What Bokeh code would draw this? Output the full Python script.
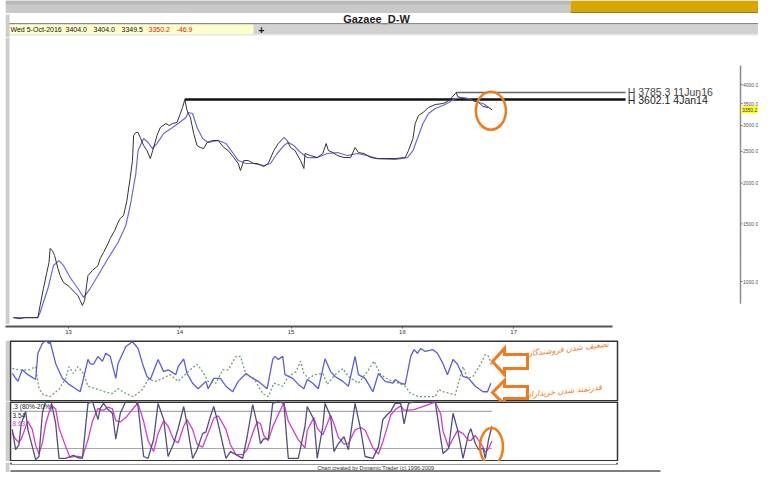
from bokeh.plotting import figure
from bokeh.layouts import column
from bokeh.models import Range1d, FixedTicker
from bokeh.core.properties import value
from bokeh.embed import file_html
from bokeh.resources import INLINE

# ---------------- data ----------------
title_text = "Gazaee_D-W"
info_texts = ["Wed 5-Oct-2016", "3404.0", "3404.0", "3349.5", "3350.2", "-46.9"]
info_colors = ["#111111", "#111111", "#111111", "#111111", "#e02020", "#e02020"]

price_years = [2012.46, 2012.51, 2012.57, 2012.62, 2012.68, 2012.70, 2012.73, 2012.76, 2012.78, 2012.79,
               2012.81, 2012.83, 2012.86, 2012.88, 2012.91, 2012.95, 2012.97, 2013.01, 2013.04, 2013.06,
               2013.08, 2013.10, 2013.12, 2013.13, 2013.17, 2013.22, 2013.24, 2013.27, 2013.31, 2013.33,
               2013.37, 2013.40, 2013.42, 2013.45, 2013.48, 2013.49, 2013.51, 2013.53, 2013.54, 2013.56,
               2013.58, 2013.60, 2013.63, 2013.66, 2013.69, 2013.72, 2013.75, 2013.78, 2013.83, 2013.86,
               2013.89, 2013.93, 2013.96, 2013.98, 2014.00, 2014.02, 2014.05, 2014.08, 2014.11, 2014.14,
               2014.17, 2014.20, 2014.25, 2014.30, 2014.35, 2014.39, 2014.44, 2014.48, 2014.50, 2014.53,
               2014.57, 2014.62, 2014.65, 2014.71, 2014.75, 2014.80, 2014.84, 2014.89, 2014.92, 2014.95,
               2014.99, 2015.04, 2015.07, 2015.08, 2015.13, 2015.19, 2015.24, 2015.27, 2015.29, 2015.33,
               2015.37, 2015.43, 2015.49, 2015.53, 2015.56, 2015.61, 2015.67, 2015.73, 2015.80, 2015.89,
               2015.98, 2016.01, 2016.05, 2016.07, 2016.10, 2016.14, 2016.19, 2016.25, 2016.32, 2016.36,
               2016.39, 2016.44, 2016.45, 2016.50, 2016.54, 2016.59, 2016.64, 2016.68, 2016.73, 2016.76]
price_close = [776, 770, 776, 776, 776, 845, 952, 1065, 1143, 1262,
               1244, 1201, 1096, 1043, 993, 972, 959, 926, 906, 875,
               845, 875, 986, 1043, 1081, 1119, 1176, 1227, 1307, 1354,
               1432, 1515, 1558, 1592, 1769, 1871, 2080, 2344, 2796, 2856,
               2856, 2757, 2605, 2515, 2377, 2569, 2796, 2958, 3042, 3000,
               3042, 3064, 3265, 3405, 3602.1, 3334, 3173, 2835, 2605, 2569,
               2551, 2661, 2700, 2700, 2569, 2515, 2394, 2296, 2185, 2344,
               2344, 2296, 2296, 2247, 2296, 2515, 2642, 2757, 2700, 2569,
               2515, 2344, 2216, 2463, 2428, 2394, 2463, 2642, 2515, 2480,
               2428, 2394, 2394, 2569, 2480, 2463, 2394, 2377, 2377, 2377,
               2394, 2515, 2737, 3042, 3218, 3287, 3405, 3477, 3502, 3551,
               3627, 3785.3, 3679, 3627, 3603, 3577, 3527, 3430, 3404, 3350.2]

ma_years = [2012.46, 2012.68, 2012.70, 2012.77, 2012.82, 2012.87, 2012.91, 2012.97, 2013.04, 2013.09,
            2013.15, 2013.22, 2013.31, 2013.40, 2013.47, 2013.51, 2013.56, 2013.58, 2013.63, 2013.67,
            2013.71, 2013.75, 2013.81, 2013.89, 2013.94, 2014.01, 2014.03, 2014.07, 2014.11, 2014.16,
            2014.21, 2014.30, 2014.37, 2014.43, 2014.48, 2014.55, 2014.62, 2014.71, 2014.77, 2014.83,
            2014.89, 2014.93, 2014.98, 2015.04, 2015.10, 2015.19, 2015.28, 2015.37, 2015.46, 2015.55,
            2015.64, 2015.73, 2015.89, 2016.00, 2016.05, 2016.09, 2016.14, 2016.19, 2016.25, 2016.32,
            2016.37, 2016.43, 2016.50, 2016.55, 2016.61, 2016.68, 2016.73]
ma_values = [776, 776, 804, 952, 1119, 1159, 1119, 1029, 952, 894,
             952, 1043, 1176, 1316, 1483, 1708, 2139, 2515, 2737, 2661,
             2551, 2642, 2835, 2958, 3042, 3173, 3287, 3265, 2958, 2737,
             2661, 2700, 2642, 2480, 2344, 2296, 2296, 2263, 2296, 2463,
             2605, 2661, 2605, 2480, 2394, 2394, 2463, 2480, 2428, 2463,
             2428, 2377, 2361, 2394, 2515, 2737, 3042, 3265, 3381, 3453,
             3527, 3627, 3653, 3627, 3551, 3502, 3405]

high_values = [3602.1, 3785.3]
high_years = [2014.00, 2016.44]
high_labels = ["H 3602.1 4Jan14", "H 3785.3 11Jun16"]
last_price = 3350.2
price_ticks = [1000, 1500, 2000, 2500, 3000, 3500, 4000]
price_tick_labels = ["%.1f" % v for v in price_ticks]

year_ticks = [2013, 2014, 2015, 2016, 2017]
year_labels = ["13", "14", "15", "16", "17"]

ind_blue_years = [2012.45, 2012.50, 2012.54, 2012.59, 2012.66, 2012.68, 2012.72, 2012.75, 2012.78, 2012.79,
                  2012.84, 2012.90, 2012.96, 2013.02, 2013.06, 2013.09, 2013.13, 2013.15, 2013.18, 2013.22,
                  2013.26, 2013.29, 2013.33, 2013.38, 2013.40, 2013.47, 2013.53, 2013.58, 2013.62, 2013.66,
                  2013.69, 2013.76, 2013.81, 2013.85, 2013.92, 2013.94, 2013.99, 2014.02, 2014.07, 2014.12,
                  2014.19, 2014.21, 2014.26, 2014.32, 2014.37, 2014.43, 2014.48, 2014.55, 2014.61, 2014.66,
                  2014.74, 2014.79, 2014.81, 2014.84, 2014.88, 2014.90, 2014.97, 2015.02, 2015.07, 2015.10,
                  2015.15, 2015.20, 2015.26, 2015.31, 2015.35, 2015.42, 2015.47, 2015.53, 2015.56, 2015.62,
                  2015.69, 2015.74, 2015.80, 2015.87, 2015.89, 2015.94, 2015.98, 2016.03, 2016.06, 2016.09,
                  2016.12, 2016.16, 2016.23, 2016.27, 2016.32, 2016.36, 2016.41, 2016.45, 2016.50, 2016.55,
                  2016.61, 2016.68, 2016.72, 2016.75]
ind_blue = [46, 33, 52, 44, 36, 79, 95, 100, 95, 98,
            62, 38, 28, 21, 16, 38, 69, 62, 61, 74,
            66, 79, 74, 38, 62, 90, 98, 87, 62, 41,
            36, 69, 49, 52, 44, 57, 70, 46, 30, 21,
            33, 21, 38, 38, 25, 16, 33, 46, 38, 33,
            21, 69, 74, 69, 74, 44, 38, 28, 21, 36,
            30, 21, 70, 49, 41, 33, 25, 74, 44, 38,
            16, 46, 33, 30, 36, 30, 28, 74, 85, 79,
            87, 82, 85, 79, 62, 44, 69, 61, 41, 38,
            25, 16, 16, 30]

ind_green_years = [2012.45, 2012.51, 2012.60, 2012.66, 2012.69, 2012.73, 2012.79, 2012.87, 2012.93, 2012.96,
                   2013.00, 2013.04, 2013.09, 2013.13, 2013.22, 2013.29, 2013.35, 2013.40, 2013.47, 2013.54,
                   2013.62, 2013.67, 2013.74, 2013.80, 2013.87, 2013.94, 2014.03, 2014.11, 2014.16, 2014.21,
                   2014.28, 2014.34, 2014.39, 2014.46, 2014.50, 2014.55, 2014.62, 2014.70, 2014.75, 2014.80,
                   2014.88, 2014.93, 2015.00, 2015.04, 2015.07, 2015.11, 2015.17, 2015.24, 2015.28, 2015.35,
                   2015.42, 2015.47, 2015.56, 2015.64, 2015.70, 2015.76, 2015.83, 2015.92, 2015.98, 2016.03,
                   2016.10, 2016.25, 2016.28, 2016.32, 2016.39, 2016.43, 2016.50, 2016.54, 2016.59, 2016.66,
                   2016.70, 2016.73, 2016.76]
ind_green = [54, 52, 52, 57, 21, 11, 8, 20, 38, 57,
             46, 57, 46, 25, 20, 15, 13, 21, 13, 8,
             20, 36, 33, 38, 44, 33, 49, 61, 49, 33,
             30, 52, 52, 74, 74, 44, 38, 13, 8, 30,
             25, 41, 49, 66, 46, 38, 44, 46, 28, 44,
             54, 41, 30, 49, 66, 44, 36, 30, 25, 13,
             8, 8, 20, 16, 13, 11, 57, 38, 41, 62,
             77, 74, 57]

stoch_years = [2012.45, 2012.48, 2012.51, 2012.53, 2012.57, 2012.59, 2012.63, 2012.66, 2012.69, 2012.72,
               2012.75, 2012.80, 2012.84, 2012.87, 2012.93, 2012.97, 2013.00, 2013.04, 2013.08, 2013.13,
               2013.17, 2013.22, 2013.24, 2013.27, 2013.31, 2013.35, 2013.38, 2013.42, 2013.47, 2013.56,
               2013.58, 2013.63, 2013.67, 2013.72, 2013.76, 2013.81, 2013.85, 2013.90, 2013.94, 2013.99,
               2014.02, 2014.07, 2014.11, 2014.16, 2014.19, 2014.23, 2014.26, 2014.30, 2014.37, 2014.41,
               2014.46, 2014.52, 2014.56, 2014.61, 2014.65, 2014.68, 2014.71, 2014.75, 2014.79, 2014.84,
               2014.89, 2014.93, 2015.02, 2015.08, 2015.10, 2015.16, 2015.19, 2015.24, 2015.26, 2015.31,
               2015.34, 2015.38, 2015.43, 2015.47, 2015.53, 2015.58, 2015.62, 2015.69, 2015.74, 2015.78,
               2015.82, 2015.85, 2015.89, 2015.94, 2015.97, 2016.01, 2016.06, 2016.25, 2016.30, 2016.32,
               2016.37, 2016.41, 2016.45, 2016.50, 2016.55, 2016.57, 2016.61, 2016.64, 2016.68, 2016.70,
               2016.73, 2016.76]
stoch_k = [51, 18, 26, 60, 80, 51, 23, 2, 7, 77,
           96, 96, 60, 4, 4, 7, 9, 5, 4, 93,
           96, 67, 85, 93, 83, 77, 35, 77, 96, 96,
           88, 7, 4, 35, 93, 67, 7, 28, 52, 88,
           60, 4, 18, 44, 47, 72, 88, 60, 4, 15,
           10, 4, 39, 91, 60, 28, 36, 35, 93, 96,
           93, 4, 4, 56, 88, 67, 4, 56, 93, 72,
           15, 28, 39, 18, 93, 51, 7, 4, 23, 67,
           75, 80, 93, 93, 60, 93, 96, 96, 35, 12,
           20, 77, 51, 4, 44, 52, 28, 18, 20, 4,
           35, 56]
stoch_d = [45, 35, 30, 35, 55, 64, 51, 25, 11, 29,
           60, 90, 84, 53, 23, 5, 7, 7, 6, 34,
           64, 85, 83, 82, 87, 84, 65, 63, 70, 90,
           93, 64, 33, 15, 44, 65, 56, 34, 29, 56,
           67, 51, 27, 22, 36, 54, 69, 73, 51, 26,
           10, 10, 18, 45, 63, 60, 41, 33, 55, 75,
           94, 64, 34, 21, 49, 70, 53, 42, 51, 74,
           60, 38, 27, 28, 50, 54, 50, 21, 11, 31,
           55, 74, 83, 89, 82, 82, 83, 95, 76, 48,
           22, 36, 49, 44, 33, 33, 41, 33, 22, 14,
           20, 32]
stoch_levels = [80, 20]
stoch_labels = [".3 (80%-20%)", "3.54", "8.63"]
stoch_label_colors = ["#222222", "#222244", "#d23cd2"]

note_sellers = "تضعیف شدن فروشندگان"
note_buyers = "قدرتمند شدن خریداران"
footer_text = "Chart created by Dynamic Trader  (c) 1996-2009"

# ---------------- layout constants (picture pixels) ----------------
W = 758
PPY = 111.3                       # pixels per year
XL = 2013 - 68 / PPY              # date at picture x = 0


def px(xpix):
    """picture pixel column -> date (years) on the shared time scale"""
    return XL + xpix / PPY


ORANGE = "#f07a1e"
FONT = "Liberation Sans"
STRIP = "#cccccc"
BOX = "#333333"
AXIS_X = 735
PRICE_LO, PRICE_HI = 739.0, 5574      # log range spanning the 287-px price panel


def plain(fw, fh, xr, yr, **kw):
    opts = dict(frame_width=fw, frame_height=fh, x_range=xr, y_range=yr,
                output_backend="svg", toolbar_location=None,
                x_axis_location=None, y_axis_location=None,
                min_border_left=0, min_border_right=0, min_border_top=0, min_border_bottom=0,
                background_fill_color="white", border_fill_color="white",
                outline_line_color=None)
    opts.update(kw)
    p = figure(**opts)
    p.grid.visible = False
    return p


# ---------- header (y 0-37) ----------
h = plain(W, 37, Range1d(0, W), Range1d(37, 0))
h.quad(left=[0], right=[565], top=[0], bottom=[12.5], fill_color="#c9c9c9", line_color=None)
h.quad(left=[0], right=[565], top=[0], bottom=[4], fill_color="#b9b9b9", line_color=None)
h.quad(left=[565], right=[W], top=[0], bottom=[11], fill_color="#dba500", line_color=None)
h.quad(left=[565], right=[W], top=[11], bottom=[12.5], fill_color="#a07800", line_color=None)
h.text(x=[371], y=[18.5], text=[title_text], text_font=value(FONT), text_font_style="bold",
       text_font_size="11px", text_align="center", text_baseline="middle", text_color="#222222")
h.quad(left=[0], right=[W], top=[22.5], bottom=[24], fill_color="#8a8a8a", line_color=None)
h.quad(left=[0], right=[248], top=[24], bottom=[33.5], fill_color="#ffffcc", line_color=None)
h.quad(left=[248], right=[W], top=[24], bottom=[33.5], fill_color="#d2d2d2", line_color=None)
h.quad(left=[0], right=[W], top=[33.5], bottom=[35], fill_color="#e6e6e6", line_color=None)
h.quad(left=[0], right=[4], top=[14], bottom=[37], fill_color=STRIP, line_color=None)
h.text(x=[253], y=[29], text=["+"], text_font=value(FONT), text_font_style="bold",
       text_font_size="10px", text_align="left", text_baseline="middle", text_color="#111111")
h.text(x=[5, 60, 88, 116, 143, 171], y=[29] * 6, text=info_texts, text_color=info_colors,
       text_font=value(FONT), text_font_size="7px", text_align="left", text_baseline="middle")

# ---------- price panel (y 37-324) ----------
p = plain(W, 287, Range1d(px(0), px(W)), Range1d(PRICE_LO, PRICE_HI), y_axis_type="log")
p.quad(left=[px(0)], right=[px(4)], bottom=[PRICE_LO], top=[PRICE_HI], fill_color=STRIP, line_color=None)
x_hline_end = 2017.96
p.segment(x0=high_years, y0=high_values, x1=[x_hline_end] * 2, y1=high_values,
          line_color=["#111111", "#666666"], line_width=[2.5, 1.6])
p.line(ma_years, ma_values, line_color="#6a6ad8", line_width=1.2)
p.line(price_years, price_close, line_color="#333333", line_width=1)
p.text(x=[2017.98] * 2, y=high_values, text=high_labels, text_font=value(FONT),
       text_font_size="10.5px", text_baseline="middle", text_align="left",
       text_color=["#222222", "#444444"])
p.ellipse(x=[2016.75], y=[3330], width=30, height=38,
          width_units="screen", height_units="screen",
          fill_color=None, line_color=ORANGE, line_width=2.5)
# price scale on the right edge (log scale of the panel)
ax_x = px(AXIS_X)
p.segment(x0=[ax_x], y0=[856], x1=[ax_x], y1=[4580], line_color="#8c8c8c", line_width=1.5)
p.segment(x0=[ax_x] * len(price_ticks), y0=price_ticks, x1=[px(AXIS_X + 2)] * len(price_ticks),
          y1=price_ticks, line_color="#777777", line_width=1)
p.text(x=[px(AXIS_X + 2.5)] * len(price_ticks), y=price_ticks, text=price_tick_labels,
       text_font=value(FONT), text_font_size="5px", text_color="#555555",
       text_align="left", text_baseline="middle")
p.quad(left=[px(AXIS_X + 1)], right=[px(AXIS_X + 19)], bottom=[last_price / 1.028],
       top=[last_price * 1.028], fill_color="#ffff33", line_color=None)
p.text(x=[px(AXIS_X + 1.5)], y=[last_price], text=["%.1f" % last_price], text_font=value(FONT),
       text_font_size="5px", text_color="#333333", text_align="left", text_baseline="middle")

# ---------- time axis band (y 324-340) ----------
t = figure(frame_width=607, frame_height=2,
           x_range=Range1d(px(5), px(612)), y_range=Range1d(0, 1),
           x_axis_location="below", y_axis_location=None,
           output_backend="svg", toolbar_location=None,
           min_border_left=5, min_border_right=W - 612, min_border_top=0, min_border_bottom=14,
           outline_line_color=None, background_fill_color="white", border_fill_color="white")
t.grid.visible = False
tx = t.xaxis[0]
tx.ticker = FixedTicker(ticks=year_ticks, minor_ticks=[])
tx.major_label_overrides = {yv: lab for yv, lab in zip(year_ticks, year_labels)}
tx.major_label_text_font = FONT
tx.major_label_text_font_size = "6px"
tx.major_label_text_color = "#333333"
tx.major_label_text_align = "left"
tx.major_label_standoff = 1
tx.axis_line_color = "#555555"
tx.axis_line_width = 2
tx.major_tick_in = 0
tx.major_tick_out = 2
tx.major_tick_line_color = "#555555"
tx.minor_tick_line_color = None


def box(fig, y0, y1):
    fig.quad(left=[px(0)], right=[px(4)], bottom=[y0], top=[y1], fill_color=STRIP, line_color=None)
    fig.segment(x0=[px(5), px(612)], y0=[y0, y0], x1=[px(5), px(612)], y1=[y1, y1],
                line_color=BOX, line_width=1.5)
    fig.segment(x0=[px(5), px(5)], y0=[y0, y1], x1=[px(612), px(612)], y1=[y0, y1],
                line_color=BOX, line_width=3)


# ---------- indicator panel (y 340-401) ----------
i1 = plain(W, 61, Range1d(px(0), px(W)), Range1d(0, 100))
box(i1, 0, 100)
i1.line(ind_green_years, ind_green, line_color="#6f9f6f", line_dash="2 2", line_width=1.3)
i1.line(ind_blue_years, ind_blue, line_color="#5c5ce0", line_width=1.3)
# hollow arrows pointing at the latest readings
tip_x, base_x, end_x = px(487), px(499), px(522)
up_c, up_h, up_b = 65.6, 21.5, 11.5
lo_c, lo_h, lo_b = 14.8, 19.7, 9.8
i1.patches(
    xs=[[tip_x, base_x, base_x, end_x, end_x, base_x, base_x]] * 2,
    ys=[[up_c, up_c + up_h, up_c + up_b, up_c + up_b, up_c - up_b, up_c - up_b, up_c - up_h],
        [lo_c, lo_c + lo_h, lo_c + lo_b, lo_c + lo_b, lo_c - lo_b, lo_c - lo_b, lo_c - lo_h]],
    fill_color="white", fill_alpha=0.0, line_color=ORANGE, line_width=3, line_join="miter")
i1.text(x=[px(562), px(558)], y=[86, 17], text=[note_sellers, note_buyers],
        text_font=value("DejaVu Sans"), text_font_size="8px", text_font_style="italic",
        text_color=ORANGE, text_align="center", text_baseline="middle", angle=[0.12, 0.1])

# ---------- stochastic panel (y 401-461) ----------
s = plain(W, 60, Range1d(px(0), px(W)), Range1d(-1.1, 96.1))
box(s, -1.1, 96.1)
s.segment(x0=[stoch_years[0]] * 2, y0=stoch_levels, x1=[stoch_years[-1]] * 2, y1=stoch_levels,
          line_color="#a8a8a8", line_width=1.2)
s.line(stoch_years, stoch_d, line_color="#d23cd2", line_width=1.3)
s.line(stoch_years, stoch_k, line_color="#50507a", line_width=1.3)
s.text(x=[px(7)] * 3, y=[88, 73, 60], text=stoch_labels, text_color=stoch_label_colors,
       text_font=value(FONT), text_font_size="6.5px", text_baseline="middle", text_align="left")
s.ellipse(x=[px(486)], y=[23], width=23, height=37,
          width_units="screen", height_units="screen",
          fill_color=None, line_color=ORANGE, line_width=2.5)

# ---------- footer (y 461-472) ----------
f = plain(W, 11, Range1d(0, W), Range1d(472, 461))
f.quad(left=[0], right=[4], top=[461], bottom=[472], fill_color=STRIP, line_color=None)
f.segment(x0=[611.5, 5.5], y0=[461, 461], x1=[611.5, 5.5], y1=[463, 463], line_color=BOX, line_width=1.5)
f.segment(x0=[5], y0=[463], x1=[612], y1=[463], line_color="#9a9a9a", line_width=1)
f.text(x=[371], y=[466], text=[footer_text], text_font=value(FONT), text_font_size="5.5px",
       text_align="center", text_baseline="middle", text_color="#333333")
f.segment(x0=[5], y0=[469.5], x1=[655], y1=[469.5], line_color="#555555", line_width=1.4)

layout = column(h, p, t, i1, s, f, spacing=0)
open("out.html", "w").write(file_html(layout, INLINE, title="Gazaee_D-W"))
